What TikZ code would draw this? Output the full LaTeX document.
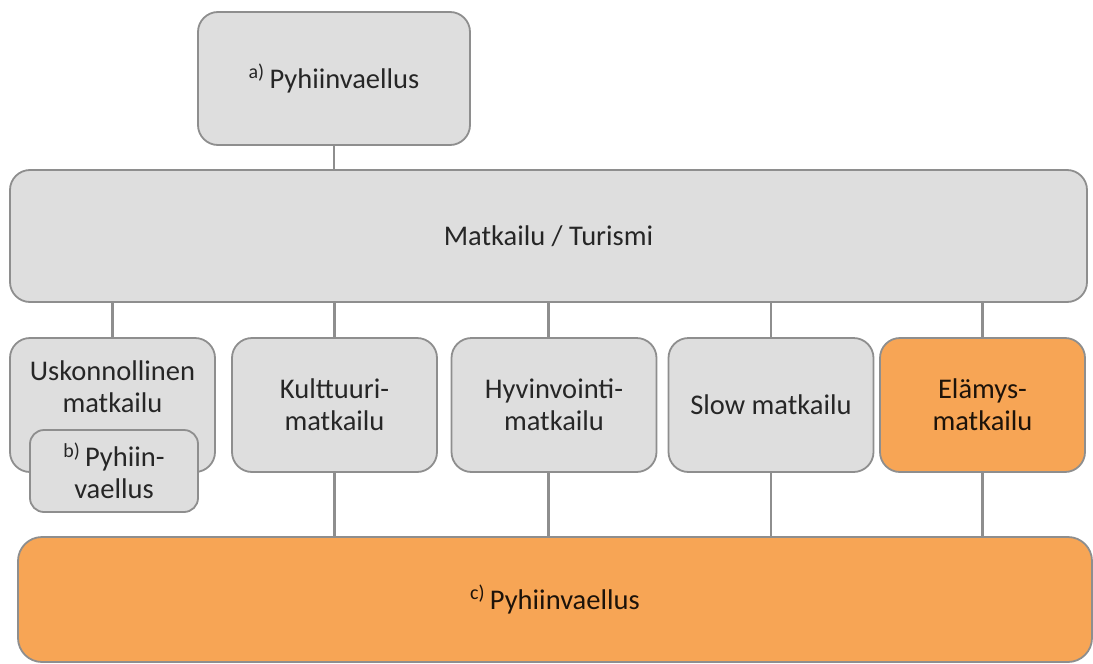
\documentclass[tikz,border=0pt]{standalone}
\usepackage{fontspec}
\setmainfont{Carlito}
\definecolor{boxfill}{HTML}{DEDEDE}
\definecolor{boxline}{HTML}{8E8E8E}
\definecolor{orfill}{HTML}{F7A555}
\definecolor{txt}{HTML}{262626}

\begin{document}
\begin{tikzpicture}[x=1pt, y=-1pt]
\tikzstyle{grybox} = [draw = boxline, fill = boxfill, line width = 1.8pt, rounded corners = 20pt, inner sep = 0pt, text = txt, align = center, font = \fontsize{28.5}{32}\selectfont]
\tikzstyle{orbox} = [grybox, fill = orfill, text = black!85!brown]
\tikzstyle{rowbox} = [grybox, minimum width = 205pt, minimum height = 134pt]
\tikzstyle{conn} = [draw = boxline, line width = 2.2pt]
\useasboundingbox (0,0) rectangle (1093,664);

\node [grybox, minimum width = 272pt, minimum height = 133pt] (pyha) at (334,78.5) {\textsuperscript{a)}\,Pyhiinvaellus};
\node [grybox, minimum width = 1077pt, minimum height = 132pt] (matk) at (548.5,236) {Matkailu / Turismi};

\node [rowbox] (usk) at (112.5,405) {};
\node [text = txt, align = center, font = \fontsize{28.5}{32}\selectfont] (uskt) at (112.5,387) {Uskonnollinen\\matkailu};
\node [grybox, minimum width = 168pt, minimum height = 82pt, rounded corners = 14pt] (pyhb) at (114,471) {\textsuperscript{b)}\,Pyhiin-\\vaellus};
\node [rowbox] (kult) at (334.5,405) {Kulttuuri-\\matkailu};
\node [rowbox] (hyv) at (554,405) {Hyvinvointi-\\matkailu};
\node [rowbox] (slow) at (771,405) {Slow matkailu};
\node [rowbox, orbox] (elam) at (982.5,405) {Elämys-\\matkailu};

\node [orbox, minimum width = 1074pt, minimum height = 125pt, rounded corners = 24pt] (pyhc) at (555,599.5) {\textsuperscript{c)}\,Pyhiinvaellus};

% connectors
\draw [conn] (pyha.south) -- (pyha.south |- matk.north);
\foreach \n in {usk, kult, slow, elam}
  \draw [conn] (\n.north) -- (\n.north |- matk.south);
\draw [conn] (matk.south) -- (matk.south |- hyv.north);
\foreach \n in {kult, slow, elam}
  \draw [conn] (\n.south) -- (\n.south |- pyhc.north);
\draw [conn] (matk.south |- hyv.south) -- (matk.south |- pyhc.north);
\end{tikzpicture}
\end{document}
